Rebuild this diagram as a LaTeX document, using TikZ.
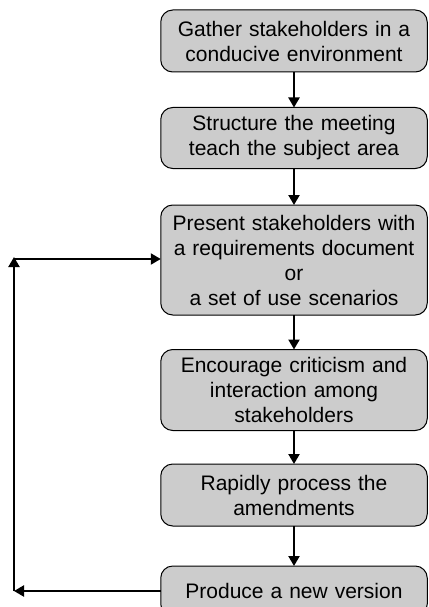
\documentclass[tikz,border=0pt]{standalone}
\usepackage{fontspec}
\setmainfont{Liberation Sans}
\usetikzlibrary{arrows.meta}
\begin{document}
\begin{tikzpicture}[x=1pt,y=-1pt,
  stagebox/.style={draw=black, line width=1pt, fill=black!20, rounded corners=12pt,
    minimum width=266.5pt, inner sep=0pt, outer sep=0pt, align=center,
    text width=262pt, font=\fontsize{21}{25}\selectfont},
  flow/.style={line width=2.2pt, -{Triangle[length=10pt,width=11pt]}}]
\clip (0,0) rectangle (428,607);
\node[stagebox, minimum height=62pt] (b1) at (294,41) {Gather stakeholders in a\\conducive environment};
\node[stagebox, minimum height=61pt] (b2) at (294,138) {Structure the meeting\\teach the subject area};
\node[stagebox, minimum height=110pt] (b3) at (294,260) {Present stakeholders with\\a requirements document\\or\\a set of use scenarios};
\node[stagebox, minimum height=81pt] (b4) at (294,390) {Encourage criticism and\\interaction among\\stakeholders};
\node[stagebox, minimum height=62pt] (b5) at (294,495) {Rapidly process the\\amendments};
\node[stagebox, minimum height=50pt] (b6) at (294,591) {Produce a new version};
\draw[flow] (b1.south) -- (b2.north);
\draw[flow] (b2.south) -- (b3.north);
\draw[flow] (b3.south) -- (b4.north);
\draw[flow] (b4.south) -- (b5.north);
\draw[flow] (b5.south) -- (b6.north);
\coordinate (fb) at (14,591);
\coordinate (ft) at (14,259);
\draw[flow] (b6.west) -- (fb);
\draw[flow, shorten >=-2pt] (fb) -- (ft);
\draw[flow] (ft) -- (ft -| b3.west);
\end{tikzpicture}
\end{document}
